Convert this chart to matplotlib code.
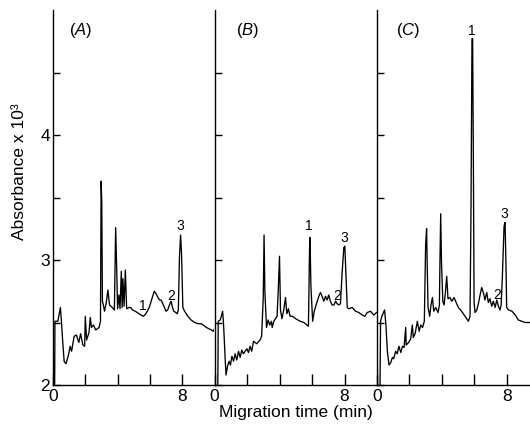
import matplotlib
matplotlib.use("Agg")
import matplotlib.pyplot as plt

plt.rcParams['font.family'] = ['Liberation Sans', 'DejaVu Sans']
plt.rcParams['mathtext.fontset'] = 'custom'
plt.rcParams['mathtext.it'] = 'Liberation Sans:italic'

# electropherograms (time in min, absorbance x 10^3)
a_time = [0.00, 0.03, 0.10, 0.12, 0.30, 0.40, 0.46, 0.52, 0.60, 0.69, 0.80, 0.96, 1.06, 1.15,
          1.31, 1.45, 1.60, 1.71, 1.85, 1.96, 2.00, 2.08, 2.23, 2.31, 2.38, 2.50, 2.65, 2.85,
          2.94, 2.98, 3.02, 3.06, 3.12, 3.19, 3.30, 3.40, 3.50, 3.67, 3.80, 3.88, 3.94, 4.00,
          4.08, 4.15, 4.23, 4.28, 4.33, 4.40, 4.48, 4.56, 4.70, 4.81, 4.92, 5.10, 5.44, 5.60,
          5.75, 5.96, 6.10, 6.27, 6.38, 6.50, 6.60, 6.69, 6.80, 6.90, 7.00, 7.10, 7.21, 7.31,
          7.40, 7.48, 7.60, 7.69, 7.76, 7.83, 7.90, 7.96, 8.04, 8.15, 8.35, 8.55, 8.77, 9.00,
          9.19, 9.50, 9.81, 9.92, 10.0]
a_abs = [3.40, 1.90, 1.90, 2.51, 2.51, 2.58, 2.62, 2.51, 2.35, 2.19, 2.17, 2.24, 2.31, 2.27,
         2.39, 2.40, 2.34, 2.41, 2.32, 2.31, 2.55, 2.36, 2.42, 2.54, 2.46, 2.48, 2.44, 2.46,
         2.51, 3.63, 3.46, 2.67, 2.64, 2.59, 2.66, 2.76, 2.64, 2.62, 2.60, 3.26, 2.95, 2.61,
         2.72, 2.61, 2.91, 2.62, 2.85, 2.63, 2.92, 2.61, 2.62, 2.62, 2.60, 2.59, 2.56, 2.55,
         2.57, 2.62, 2.68, 2.75, 2.73, 2.70, 2.68, 2.68, 2.65, 2.62, 2.59, 2.60, 2.64, 2.67,
         2.62, 2.59, 2.58, 2.57, 2.60, 3.02, 3.20, 3.05, 2.62, 2.59, 2.55, 2.52, 2.50, 2.49,
         2.49, 2.46, 2.44, 2.43, 2.45]

b_time = [0.00, 0.02, 0.05, 0.20, 0.23, 0.35, 0.42, 0.50, 0.55, 0.60, 0.66, 0.71, 0.80, 0.90,
          0.98, 1.07, 1.17, 1.27, 1.37, 1.48, 1.58, 1.68, 1.78, 1.99, 2.09, 2.19, 2.29, 2.40,
          2.60, 2.80, 2.90, 3.00, 3.05, 3.10, 3.20, 3.30, 3.40, 3.50, 3.55, 3.65, 3.85, 3.93,
          4.00, 4.06, 4.15, 4.26, 4.37, 4.45, 4.55, 4.65, 4.80, 5.00, 5.26, 5.50, 5.78, 5.85,
          5.88, 5.93, 6.04, 6.14, 6.25, 6.42, 6.52, 6.62, 6.73, 6.83, 6.93, 7.03, 7.13, 7.24,
          7.35, 7.45, 7.55, 7.65, 7.75, 7.86, 7.96, 8.02, 8.08, 8.17, 8.27, 8.48, 8.68, 8.88,
          9.09, 9.25, 9.40, 9.60, 9.80, 9.97]
b_abs = [2.45, 4.06, 1.90, 1.90, 2.51, 2.52, 2.55, 2.59, 2.50, 2.37, 2.20, 2.08, 2.15, 2.19,
         2.16, 2.23, 2.19, 2.25, 2.20, 2.27, 2.22, 2.28, 2.25, 2.29, 2.26, 2.31, 2.27, 2.35,
         2.33, 2.36, 2.39, 2.70, 3.20, 2.75, 2.46, 2.52, 2.48, 2.51, 2.46, 2.51, 2.55, 2.78,
         3.03, 2.60, 2.53, 2.60, 2.70, 2.57, 2.61, 2.55, 2.55, 2.53, 2.51, 2.50, 2.47, 3.10,
         3.18, 2.80, 2.51, 2.59, 2.64, 2.71, 2.74, 2.71, 2.67, 2.71, 2.68, 2.72, 2.67, 2.64,
         2.64, 2.67, 2.65, 2.64, 2.65, 2.91, 3.10, 3.11, 2.91, 2.62, 2.61, 2.62, 2.59, 2.58,
         2.56, 2.55, 2.58, 2.59, 2.56, 2.58]

c_time = [0.00, 0.02, 0.04, 0.18, 0.22, 0.30, 0.40, 0.47, 0.55, 0.64, 0.74, 0.85, 0.95, 1.03,
          1.15, 1.25, 1.35, 1.47, 1.57, 1.67, 1.77, 1.80, 1.95, 2.08, 2.18, 2.24, 2.35, 2.49,
          2.60, 2.70, 2.81, 2.92, 3.00, 3.06, 3.10, 3.15, 3.25, 3.33, 3.42, 3.50, 3.62, 3.77,
          3.85, 3.88, 3.93, 3.98, 4.06, 4.14, 4.22, 4.30, 4.38, 4.50, 4.62, 4.75, 4.85, 5.02,
          5.22, 5.43, 5.64, 5.74, 5.80, 5.86, 5.90, 5.95, 5.99, 6.05, 6.16, 6.27, 6.36, 6.46,
          6.56, 6.66, 6.77, 6.87, 6.97, 7.08, 7.18, 7.29, 7.39, 7.49, 7.59, 7.66, 7.73, 7.84,
          7.90, 7.96, 8.00, 8.12, 8.33, 8.53, 8.72, 8.93, 9.14, 9.44]
c_abs = [2.50, 2.20, 1.90, 1.90, 2.51, 2.55, 2.58, 2.60, 2.48, 2.27, 2.16, 2.18, 2.22, 2.21,
         2.27, 2.25, 2.31, 2.26, 2.31, 2.30, 2.46, 2.32, 2.34, 2.37, 2.48, 2.38, 2.41, 2.51,
         2.43, 2.48, 2.46, 2.51, 3.12, 3.25, 2.95, 2.62, 2.55, 2.64, 2.70, 2.59, 2.62, 2.58,
         2.64, 2.95, 3.37, 2.98, 2.67, 2.64, 2.74, 2.87, 2.69, 2.70, 2.67, 2.70, 2.67, 2.62,
         2.59, 2.55, 2.51, 2.55, 3.41, 4.77, 4.77, 3.70, 2.66, 2.58, 2.60, 2.66, 2.72, 2.78,
         2.74, 2.68, 2.74, 2.66, 2.69, 2.63, 2.67, 2.62, 2.68, 2.63, 2.60, 2.64, 2.85, 3.27,
         3.30, 2.95, 2.62, 2.60, 2.59, 2.56, 2.52, 2.51, 2.50, 2.50]

panel_names = ['A', 'B', 'C']
peak_labels = ['1', '2', '3']
a_label_pos = [(5.54, 2.63), (7.31, 2.71), (7.90, 3.27)]
b_label_pos = [(5.80, 3.27), (7.54, 2.71), (7.96, 3.18)]
c_label_pos = [(5.86, 4.83), (7.39, 2.72), (7.86, 3.37)]

traces = [(a_time, a_abs, a_label_pos), (b_time, b_abs, b_label_pos), (c_time, c_abs, c_label_pos)]

fig = plt.figure(figsize=(5.3, 4.28), dpi=100)
W, H = 530.0, 428.0
bottom = 1 - 385 / H
height = (385 - 10) / H
lefts = [53, 214.5, 377]
rights = [214.5, 377, 530]
xmax = [10.0, 10.0, 9.44]
name_x = [1.7, 2.06, 1.9]

for i, (t, v, lab_pos) in enumerate(traces):
    ax = fig.add_axes([lefts[i] / W, bottom, (rights[i] - lefts[i]) / W, height])
    ax.plot(t, v, color='black', lw=0.95)
    ax.set_xlim(0, xmax[i])
    ax.set_ylim(2, 5)
    for s in ['top', 'right']:
        ax.spines[s].set_visible(False)
    for s in ['left', 'bottom']:
        ax.spines[s].set_linewidth(1.0)
    ax.set_xticks([0, 2, 4, 6, 8])
    ax.set_xticklabels(['0', '', '', '', '8'])
    ax.set_yticks([2, 2.5, 3, 3.5, 4, 4.5])
    if i == 0:
        ax.set_yticklabels(['2', '', '3', '', '4', ''])
    else:
        ax.set_yticklabels([])
    ax.tick_params(axis='x', direction='in', length=8, width=1, labelsize=12.5, pad=3)
    ax.tick_params(axis='y', direction='in', length=5, width=1, labelsize=12.5, pad=2)
    ax.text(name_x[i], 4.84, '($\\mathit{%s}$)' % panel_names[i], fontsize=12,
            ha='center', va='center')
    for lab, (px, py) in zip(peak_labels, lab_pos):
        ax.text(px, py, lab, fontsize=10, ha='center', va='center')
    ax.patch.set_visible(False)

fig.text(20 / W, 1 - 172 / H, 'Absorbance x 10³', rotation=90, fontsize=12.5,
         ha='center', va='center')
fig.text(296 / W, 1 - 413 / H, 'Migration time (min)', fontsize=12.5,
         ha='center', va='center')

fig.savefig('out.png', dpi=100)
